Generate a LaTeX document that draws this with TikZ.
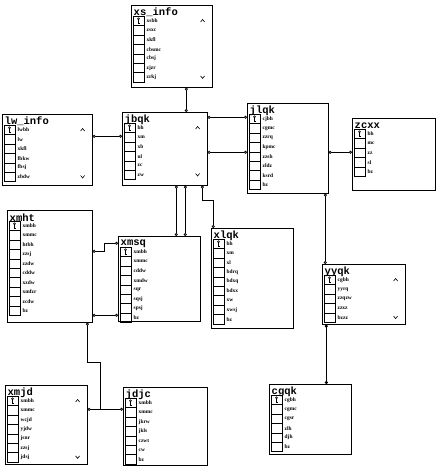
\documentclass[tikz,border=0pt]{standalone}
\usepackage{fontspec}
\setmainfont{Liberation Serif}
\setmonofont{Liberation Mono}
\usetikzlibrary{arrows.meta,calc}

\newcommand\dbtab[8]{%
  \node[tabbox, minimum width=#4pt, minimum height=#5pt] (#1) at (#2,#3) {};
  \node[tabtitle] (#1-t) at ([shift={(2.5pt,-7.5pt)}]#1.north west) {#6};
  \foreach \f [count=\i] in {#7} {
    \draw[cell] ([shift={(2pt,{-16pt-(\i-1)*9.4pt+4.7pt})}]#1.north west) rectangle ++(11,9.4);
    \node[field] (#1-\i) at ([shift={(15.5pt,{-16pt-(\i-1)*9.4pt})}]#1.north west) {\f};
    \xdef\lastrow{\i}
  }
  \draw[keysym] ([shift={(7.5pt,-13.8pt)}]#1.north west) circle (1pt);
  \draw[keysym] ([shift={(7.5pt,-14.8pt)}]#1.north west) -- ++(0,3.6) -- ++(1,0);
  \ifnum#8=1
    \draw[scroll] ([shift={(-12pt,-17pt)}]#1.north east) -- ++(2,-2.5) -- ++(2,2.5);
    \draw[scroll] ([shift={(-12pt,{-16pt-(\lastrow-1)*9.4pt+1.5pt})}]#1.north east) -- ++(2,2.5) -- ++(2,-2.5);
  \fi
}

\begin{document}
\begin{tikzpicture}[
  x=1pt, y=-1pt,
  tabbox/.style={draw, line width=0.6pt, anchor=north west, inner sep=0pt, fill=white},
  tabtitle/.style={anchor=west, inner sep=0pt,
              font={\ttfamily\bfseries\fontsize{10.5}{10.5}\selectfont}},
  field/.style={anchor=west, inner sep=0pt, font={\bfseries\fontsize{5.4}{6}\selectfont}},
  cell/.style={draw, line width=0.5pt},
  keysym/.style={draw, line width=0.45pt},
  scroll/.style={draw, line width=0.6pt},
  rel/.style={draw, line width=0.7pt,
              {Circle[open,length=3pt,width=3pt]}-{Circle[open,length=3pt,width=3pt]}},
  relstart/.style={draw, line width=0.7pt, {Circle[open,length=3pt,width=3pt]}-},
]
  \useasboundingbox (0,0) rectangle (439,474);

  \dbtab{xsinfo}{131}{5}{81}{82}{xs\_info}{xsbh,zsxc,xkfl,cbsmc,cbsj,zjzr,zrkj}{1}
  \dbtab{lwinfo}{2}{114}{90}{71}{lw\_info}{lwbh,lw,xkfl,fbkw,fbsj,zbdw}{1}
  \dbtab{jbqk}{122}{112}{85}{73}{jbqk}{bh,xm,xb,nl,zc,zw}{1}
  \dbtab{jlqk}{247}{103}{81}{90}{jlqk}{cjbh,cgmc,zzrq,kpmc,zzsh,zldz,ksrd,bz}{0}
  \dbtab{zcxx}{352}{118}{83}{72}{zcxx}{bh,mc,zz,sl,bz}{0}
  \dbtab{xmht}{7}{210}{85}{112}{xmht}{xmbh,xmmc,htbh,zzsj,zzdw,cddw,xzdw,xmfzr,zcdw,bz}{0}
  \dbtab{xmsq}{118}{236}{82}{85}{xmsq}{xmbh,xmmc,cddw,xmdw,sqr,sqsj,spsj,bz}{0}
  \dbtab{xlqk}{211}{228}{82}{100}{xlqk}{bh,xm,xl,bdrq,bdxq,bdxx,xw,xwsj,bz}{0}
  \dbtab{yyqk}{322}{264}{83}{60}{yyqk}{cgbh,yyrq,zzqzw,zzxz,bzzz}{1}
  \dbtab{cgqk}{269}{384}{82}{70}{cgqk}{cgbh,cgmc,cgsr,zlh,djh,bz}{0}
  \dbtab{xmjd}{5}{385}{82}{79}{xmjd}{xmbh,xmmc,wcjd,yjdw,jsnr,zzsj,jdsj}{1}
  \dbtab{jdjc}{123}{387}{84}{78}{jdjc}{xmbh,xmmc,jkrw,jkls,czwt,cw,bz}{0}

  \draw[rel] ([xshift=14.5pt]xsinfo.south) -- ([xshift=14.5pt]xsinfo.south |- jbqk.north);
  \draw[rel] ([yshift=13.5pt]lwinfo.east) -- ([yshift=13.5pt]lwinfo.east -| jbqk.west);
  \draw[rel] ([yshift=31.5pt]jbqk.east) -- ([yshift=31.5pt]jbqk.east -| jlqk.west);
  \draw[rel] ([yshift=-3.5pt]jbqk.east) -- ([yshift=-3.5pt]jbqk.east -| jlqk.west);
  \draw[rel] ([yshift=-4pt]jlqk.east) -- ([yshift=-4pt]jlqk.east -| zcxx.west);
  \draw[rel] ([xshift=11.5pt]jbqk.south) -- ([xshift=11.5pt]jbqk.south |- xmsq.north);
  \draw[rel] ([xshift=20.5pt]jbqk.south) -- ([xshift=20.5pt]jbqk.south |- xmsq.north);
  \draw[rel] ([xshift=37.5pt]jbqk.south) -- ++(0,15) -| ([xshift=-39pt]xlqk.north);
  \draw[rel] ([yshift=15pt]xmht.east) -- ++(12,0) |- ([yshift=35.5pt]xmsq.west);
  \draw[rel] ([yshift=-49pt]xmht.east) -- ([yshift=-49pt]xmht.east -| xmsq.west);
  \draw[rel] ([yshift=15.5pt]xmjd.east) -- ([yshift=15.5pt]xmjd.east -| jdjc.west);
  \draw[relstart] ([xshift=37.5pt]xmht.south) -- ++(0,40) -| ([shift={(-23pt,17pt)}]jdjc.west);
  \draw[rel] ([xshift=37.5pt]jlqk.south) -- ([xshift=37.5pt]jlqk.south |- yyqk.north);
  \draw[rel, line width=1.2pt] ([xshift=-37.5pt]yyqk.south) -- ([xshift=-37.5pt]yyqk.south |- cgqk.north);
\end{tikzpicture}
\end{document}
